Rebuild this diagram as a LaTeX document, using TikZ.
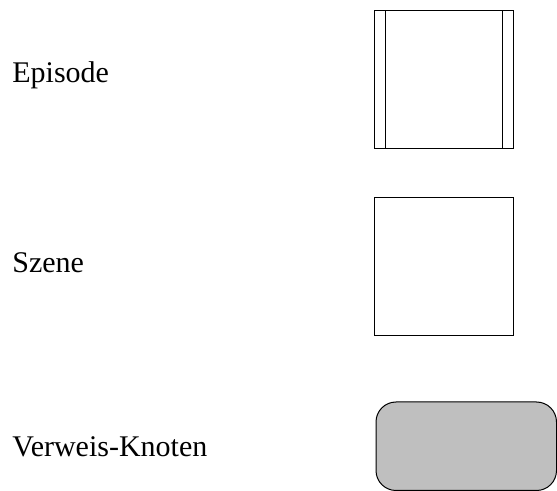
\documentclass[tikz,border=0pt]{standalone}
\usepackage{fontspec}
\setmainfont{Liberation Serif}
\usepackage{tikz}

\tikzset{%
  label/.style={anchor=base west, inner sep=0pt, font=\fontsize{15}{18}\selectfont},%
  frame/.style={draw=black, line width=0.5pt},%
}

\begin{document}
\begin{tikzpicture}[x=0.5pt, y=-0.5pt]

      \useasboundingbox (0, 0) rectangle (557, 491);
      \clip (0, 0) rectangle (557, 491);

      % episode: box with two inner bars
      \draw [frame] (374, 11) rectangle (513, 149);
      \draw [frame] (385, 11) -- (385, 149);
      \draw [frame] (502, 11) -- (502, 149);
      \node [label] (episode) at (12, 83) {Episode};

      % scene: plain box
      \draw [frame] (374, 198) rectangle (513, 336);
      \node [label] (szene) at (12, 273) {Szene};

      % reference node: grey rounded box
      \draw [frame, fill=black!25, rounded corners=10pt] (376, 402) rectangle (556.5, 490.5);
      \node [label] (verweis) at (12, 457) {Verweis-Knoten};

\end{tikzpicture}
\end{document}
